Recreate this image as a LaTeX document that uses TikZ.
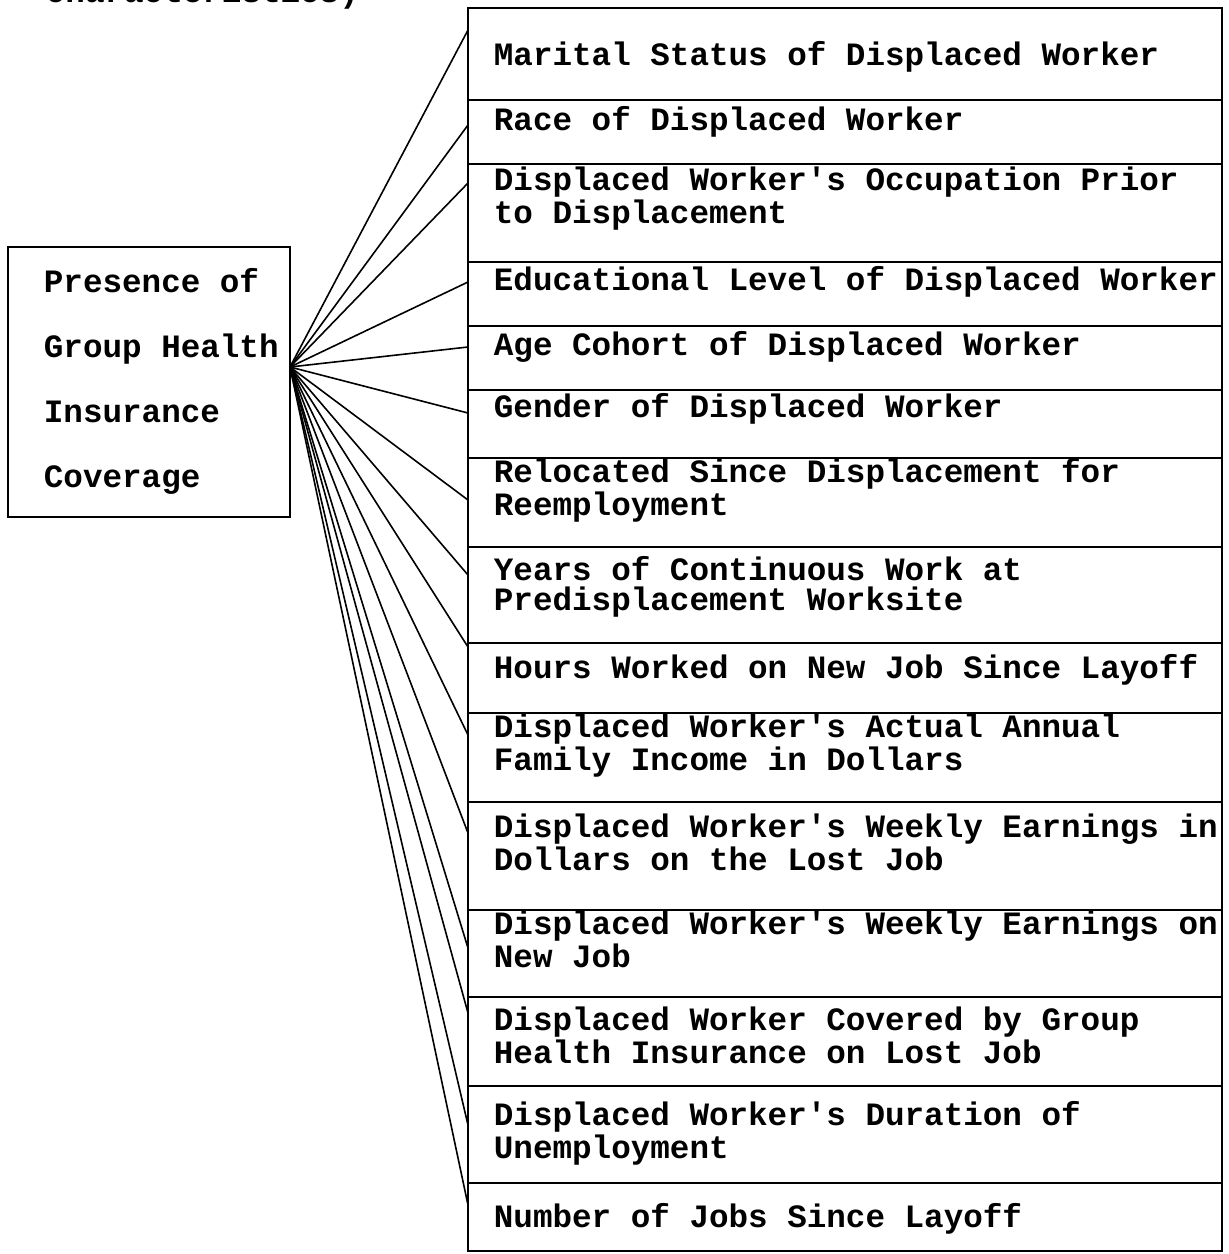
\documentclass[tikz,border=0pt]{standalone}
\usepackage{fontspec}
\setmonofont{Liberation Mono}
\usetikzlibrary{positioning}

\begin{document}
\begin{tikzpicture}[x=0.5pt, y=-0.5pt, line width=0.9pt,
    lbl/.style={font=\fontsize{16.3}{15}\selectfont\ttfamily\bfseries, inner sep=0pt, align=left},
    rowbox/.style={draw, inner sep=0pt, outer sep=0pt, minimum width=377pt},
    link/.style={line width=0.8pt}]
    \useasboundingbox (0,0) rectangle (1229,1254);
    \clip (0,0) rectangle (1229,1254);

    \node[lbl, anchor=base west] (cut) at (45,2) {characteristics)};

    \node[draw, anchor=north west, minimum width=141pt, minimum height=135pt,
        inner sep=0pt, outer sep=0pt] (lhs) at (8,247) {};
    \node[lbl, anchor=base west, font=\fontsize{16.3}{32.5}\selectfont\ttfamily\bfseries] (lt)
        at ([xshift=17.5pt, yshift=-120pt]lhs.north west)
        {Presence of\\Group Health\\Insurance\\Coverage};
    \coordinate (hub) at ([yshift=7.5pt]lhs.east);

    \node[rowbox, anchor=north west, minimum height=46pt] (r1) at (468,8) {};
    \node[rowbox, minimum height=32pt, below=0pt of r1] (r2) {};
    \node[rowbox, minimum height=49pt, below=0pt of r2] (r3) {};
    \node[rowbox, minimum height=32pt, below=0pt of r3] (r4) {};
    \node[rowbox, minimum height=32pt, below=0pt of r4] (r5) {};
    \node[rowbox, minimum height=34pt, below=0pt of r5] (r6) {};
    \node[rowbox, minimum height=44.5pt, below=0pt of r6] (r7) {};
    \node[rowbox, minimum height=48pt, below=0pt of r7] (r8) {};
    \node[rowbox, minimum height=35pt, below=0pt of r8] (r9) {};
    \node[rowbox, minimum height=44.5pt, below=0pt of r9] (r10) {};
    \node[rowbox, minimum height=54pt, below=0pt of r10] (r11) {};
    \node[rowbox, minimum height=43.5pt, below=0pt of r11] (r12) {};
    \node[rowbox, minimum height=44.5pt, below=0pt of r12] (r13) {};
    \node[rowbox, minimum height=48.5pt, below=0pt of r13] (r14) {};
    \node[rowbox, minimum height=34pt, below=0pt of r14] (r15) {};

    \node[lbl, anchor=base west] (t1) at ([xshift=12.5pt, yshift=-28.5pt]r1.north west)
        {Marital Status of Displaced Worker};
    \node[lbl, anchor=base west] (t2) at ([xshift=12.5pt, yshift=-15pt]r2.north west)
        {Race of Displaced Worker};
    \node[lbl, anchor=base west] (t3) at ([xshift=12.5pt, yshift=-29.5pt]r3.north west)
        {Displaced Worker's Occupation Prior\\to Displacement};
    \node[lbl, anchor=base west] (t4) at ([xshift=12.5pt, yshift=-14pt]r4.north west)
        {Educational Level of Displaced Worker};
    \node[lbl, anchor=base west] (t5) at ([xshift=12.5pt, yshift=-14.5pt]r5.north west)
        {Age Cohort of Displaced Worker};
    \node[lbl, anchor=base west] (t6) at ([xshift=12.5pt, yshift=-13.5pt]r6.north west)
        {Gender of Displaced Worker};
    \node[lbl, anchor=base west] (t7) at ([xshift=12.5pt, yshift=-28.5pt]r7.north west)
        {Relocated Since Displacement for\\Reemployment};
    \node[lbl, anchor=base west] (t8) at ([xshift=12.5pt, yshift=-31.5pt]r8.north west)
        {Years of Continuous Work at\\Predisplacement Worksite};
    \node[lbl, anchor=base west] (t9) at ([xshift=12.5pt, yshift=-17.5pt]r9.north west)
        {Hours Worked on New Job Since Layoff};
    \node[lbl, anchor=base west] (t10) at ([xshift=12.5pt, yshift=-28.5pt]r10.north west)
        {Displaced Worker's Actual Annual\\Family Income in Dollars};
    \node[lbl, anchor=base west] (t11) at ([xshift=12.5pt, yshift=-34pt]r11.north west)
        {Displaced Worker's Weekly Earnings in\\Dollars on the Lost Job};
    \node[lbl, anchor=base west] (t12) at ([xshift=12.5pt, yshift=-28.5pt]r12.north west)
        {Displaced Worker's Weekly Earnings on\\New Job};
    \node[lbl, anchor=base west] (t13) at ([xshift=12.5pt, yshift=-33pt]r13.north west)
        {Displaced Worker Covered by Group\\Health Insurance on Lost Job};
    \node[lbl, anchor=base west] (t14) at ([xshift=12.5pt, yshift=-36pt]r14.north west)
        {Displaced Worker's Duration of\\Unemployment};
    \node[lbl, anchor=base west] (t15) at ([xshift=12.5pt, yshift=-22pt]r15.north west)
        {Number of Jobs Since Layoff};

    \draw[link] (hub) -- ([yshift=-11pt]r1.north west);
    \draw[link] (hub) -- ([yshift=-12.5pt]r2.north west);
    \draw[link] (hub) -- ([yshift=-9.5pt]r3.north west);
    \draw[link] (hub) -- ([yshift=-10pt]r4.north west);
    \draw[link] (hub) -- ([yshift=-10.5pt]r5.north west);
    \draw[link] (hub) -- ([yshift=-11.5pt]r6.north west);
    \draw[link] (hub) -- ([yshift=-21pt]r7.north west);
    \draw[link] (hub) -- ([yshift=-14pt]r8.north west);
    \draw[link] (hub) -- ([yshift=-2pt]r9.north west);
    \draw[link] (hub) -- ([yshift=-11pt]r10.north west);
    \draw[link] (hub) -- ([yshift=-15.5pt]r11.north west);
    \draw[link] (hub) -- ([yshift=-19pt]r12.north west);
    \draw[link] (hub) -- ([yshift=-8pt]r13.north west);
    \draw[link] (hub) -- ([yshift=-19.5pt]r14.north west);
    \draw[link] (hub) -- ([yshift=-11pt]r15.north west);
\end{tikzpicture}
\end{document}
